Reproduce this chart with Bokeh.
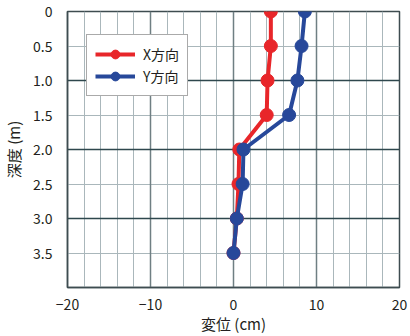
from bokeh.plotting import figure
from bokeh.models import Range1d, FixedTicker, Grid, Legend, LegendItem, ColumnDataSource
from bokeh.embed import file_html
from bokeh.resources import INLINE

depth = [0, 0.5, 1.0, 1.5, 2.0, 2.5, 3.0, 3.5]
x_dir = [4.5, 4.5, 4.1, 4.0, 0.7, 0.6, 0.4, 0.0]
y_dir = [8.6, 8.2, 7.7, 6.7, 1.2, 1.1, 0.4, 0.0]
x_ticks = [-20, -10, 0, 10, 20]
y_ticks = [0, 0.5, 1.0, 1.5, 2.0, 2.5, 3.0, 3.5]
y_tick_labels = ["0", "0.5", "1.0", "1.5", "2.0", "2.5", "3.0", "3.5"]
series_names = ["X方向", "Y方向"]

FONT = "Noto Sans CJK JP"

p = figure(width=410, height=336, output_backend="svg", toolbar_location=None,
           x_range=Range1d(-20, 20), y_range=Range1d(4, 0),
           min_border_left=65, min_border_right=11, min_border_top=11, min_border_bottom=40)
p.background_fill_color = "white"
p.border_fill_color = "white"
p.outline_line_color = "#3e4c50"
p.outline_line_width = 1.5

# grids
p.xgrid.ticker = FixedTicker(ticks=[v for v in range(-18, 20, 2) if v % 10 != 0])
p.xgrid.grid_line_color = "#aab7bb"
p.xgrid.grid_line_width = 1
p.ygrid.ticker = FixedTicker(ticks=[0.5, 1.5, 2.5, 3.5])
p.ygrid.grid_line_color = "#aab7bb"
p.ygrid.grid_line_width = 1
p.add_layout(Grid(dimension=0, ticker=FixedTicker(ticks=[-10, 0, 10]),
                  grid_line_color="#6f7f83", grid_line_width=1.5))
p.add_layout(Grid(dimension=1, ticker=FixedTicker(ticks=[1.0, 2.0, 3.0]),
                  grid_line_color="#2e474d", grid_line_width=1.5))

# axes
p.xaxis.ticker = FixedTicker(ticks=x_ticks)
p.yaxis.ticker = FixedTicker(ticks=y_ticks)
p.yaxis.major_label_overrides = {t: l for t, l in zip(y_ticks, y_tick_labels)}
for ax in (p.xaxis[0], p.yaxis[0]):
    ax.axis_line_color = "#3e4c50"
    ax.axis_line_width = 1.5
    ax.major_tick_line_color = None
    ax.minor_tick_line_color = None
    ax.major_label_text_font = FONT
    ax.major_label_text_font_size = "14px"
    ax.major_label_text_color = "#231f20"
    ax.axis_label_text_font = FONT
    ax.axis_label_text_font_size = "15px"
    ax.axis_label_text_font_style = "normal"
    ax.axis_label_text_color = "#231f20"
p.xaxis.axis_label = "変位 (cm)"
p.yaxis.axis_label = "深度 (m)"
p.xaxis.major_label_standoff = 5
p.yaxis.major_label_standoff = 9
p.xaxis.axis_label_standoff = 0
p.yaxis.axis_label_standoff = 6

red = "#e8262a"
blue = "#27489a"
src = ColumnDataSource(dict(depth=depth, xd=x_dir, yd=y_dir))
lr = p.line("xd", "depth", source=src, line_color=red, line_width=4)
cr = p.scatter("xd", "depth", source=src, size=13, fill_color=red, line_color=red)
lb = p.line("yd", "depth", source=src, line_color=blue, line_width=4)
cb = p.scatter("yd", "depth", source=src, size=13, fill_color=blue, line_color=blue)

legend = Legend(items=[LegendItem(label=series_names[0], renderers=[lr, cr]),
                       LegendItem(label=series_names[1], renderers=[lb, cb])])
legend.margin = 0
legend.padding = 8
legend.spacing = 0
legend.glyph_width = 40
legend.glyph_height = 22
legend.label_standoff = 8
legend.label_text_font = FONT
legend.label_text_font_size = "14px"
legend.label_text_color = "#231f20"
legend.border_line_color = "#555555"
legend.border_line_width = 1.5
legend.background_fill_alpha = 1
p.add_layout(legend)
legend.location = (19, 191)

open("out.html", "w").write(file_html(p, INLINE))
